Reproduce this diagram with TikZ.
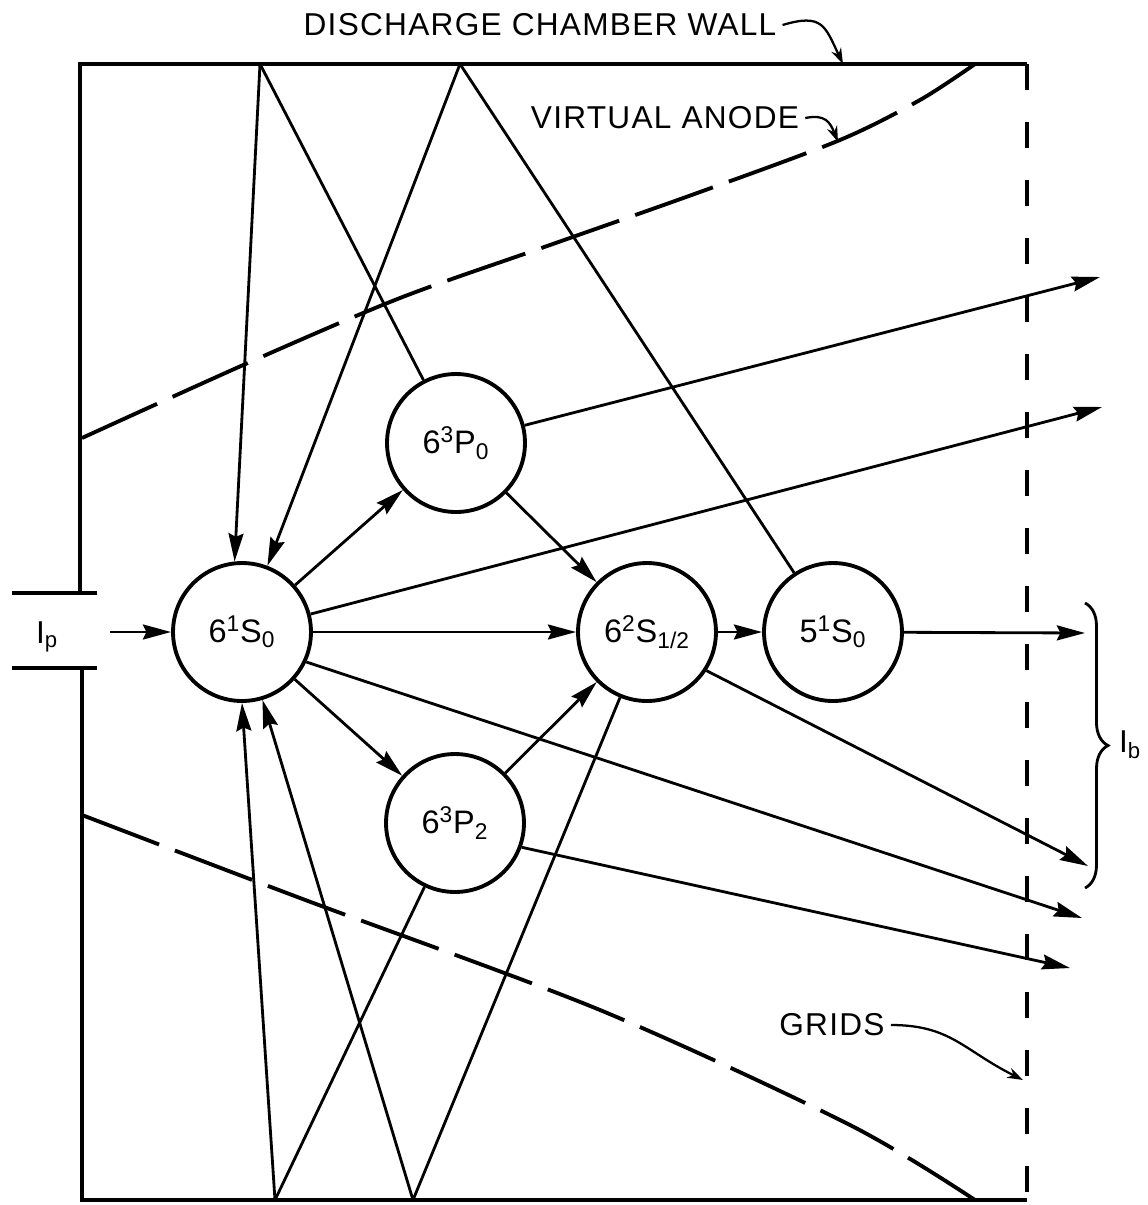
\documentclass[tikz,border=0pt]{standalone}
\usepackage{fontspec}
\setmainfont{Liberation Sans}
\usetikzlibrary{arrows.meta,decorations.pathreplacing}

\newcommand{\lvl}[4]{#1\textsuperscript{#2}#3\textsubscript{#4}}

\begin{document}
\begin{tikzpicture}[x=0.02cm, y=-0.02cm, >={Stealth[length=16pt,width=8.5pt,inset=2pt]},
  level/.style={circle, draw, line width=2.2pt, minimum size=2.76cm, inner sep=0pt,
    font=\fontsize{18.5}{20}\selectfont},
  lbl/.style={font=\fontsize{18}{20}\selectfont\addfontfeature{LetterSpace=4}},
  wall/.style={line width=2.3pt},
  ray/.style={line width=1.6pt},
  anode/.style={line width=2.2pt, dash pattern=on 1.65cm off 0.34cm},
  gridline/.style={line width=2.3pt, dash pattern=on 0.52cm off 0.64cm},
  ptr/.style={line width=1.3pt, -{Stealth[length=9pt,width=6pt]}}]
  \useasboundingbox (0,0) rectangle (1148,1205);

  % chamber, grids, virtual anode
  \draw[wall] (12,593) -- (97,593) (80,593) -- (80,64) -- (1027,64);
  \draw[wall] (12,668) -- (97,668) (82,668) -- (82,1200) -- (1027,1200);
  \draw[gridline] (1027,64) -- (1027,1200);
  \draw[anode] plot[smooth] coordinates {(82,438) (250,362) (400,298) (550,245)
    (700,192) (840,140) (920,100) (975,64)};
  \draw[anode] plot[smooth] coordinates {(82,815) (300,898) (600,1010)
    (850,1125) (975,1200)};

  \coordinate (t1) at (260,64);
  \coordinate (t2) at (460,64);
  \coordinate (w1) at (275,1200);
  \coordinate (w2) at (413,1200);

  \node[level] (ground) at (242,632) {\lvl{6}{1}{S}{0}};
  \node[level] (meta0) at (456,443) {\lvl{6}{3}{P}{0}};
  \node[level] (meta2) at (455,823) {\lvl{6}{3}{P}{2}};
  \node[level] (ion1) at (647,632) {\lvl{6}{2}{S}{1/2}};
  \node[level] (ion2) at (833,632) {\lvl{5}{1}{S}{0}};

  \node[lbl] (ip) at (47,637) {I\textsubscript{p}};
  \coordinate (ipin) at (110,632);
  \draw[ray,->] (ipin) -- (ground);

  \draw[ray,->] (ground) -- (meta0);
  \draw[ray,->] (ground) -- (meta2);
  \draw[ray,->] (ground) -- (ion1);
  \draw[ray,->] (meta0) -- (ion1);
  \draw[ray,->] (meta2) -- (ion1);
  \draw[ray,->] (ion1) -- (ion2);

  % wall collisions
  \draw[ray,->] (t1) -- (ground.96);
  \draw[ray] (t1) -- (meta0);
  \draw[ray,->] (t2) -- (ground);
  \draw[ray] (t2) -- (ion2);
  \draw[ray,->] (w1) -- (ground.south);
  \draw[ray] (w1) -- (meta2);
  \draw[ray,->] (w2) -- (ground);
  \draw[ray] (w2) -- (ion1);

  % beam
  \coordinate (b1) at (1100,277);
  \coordinate (b2) at (1102,407);
  \coordinate (b3) at (1085,633);
  \coordinate (b4) at (1088,866);
  \coordinate (b5) at (1082,918);
  \coordinate (b6) at (1070,968);
  \draw[ray,->] (meta0) -- (b1);
  \draw[ray,->] (ground) -- (b2);
  \draw[ray,->] (ion2) -- (b3);
  \draw[ray,->] (ion1.-33) -- (b4);
  \draw[ray,->] (ground.-25) -- (b5);
  \draw[ray,->] (meta2.-20) -- (b6);

  \coordinate (ibtop) at (1085,603);
  \coordinate (ibbot) at (1085,888);
  \draw[line width=1.6pt, decorate, decoration={brace, amplitude=0.46cm}] (ibtop) -- (ibbot);
  \node[lbl] (ib) at (1130,745) {I\textsubscript{b}};

  % labels
  \node[lbl] (wl) at (540,25) {DISCHARGE CHAMBER WALL};
  \coordinate (wlpt) at (843,64);
  \draw[ptr] (wl.east) .. controls +(40,-12) and +(-18,-38) .. (wlpt);
  \node[lbl] (va) at (665,118) {VIRTUAL ANODE};
  \coordinate (vapt) at (838,142);
  \draw[ptr] (va.east) .. controls +(20,-4) and +(-8,-20) .. (vapt);
  \node[lbl] (gr) at (832,1025) {GRIDS};
  \coordinate (grpt) at (1023,1080);
  \draw[ptr] (gr.east) .. controls +(60,0) and +(-60,-30) .. (grpt);
\end{tikzpicture}
\end{document}
